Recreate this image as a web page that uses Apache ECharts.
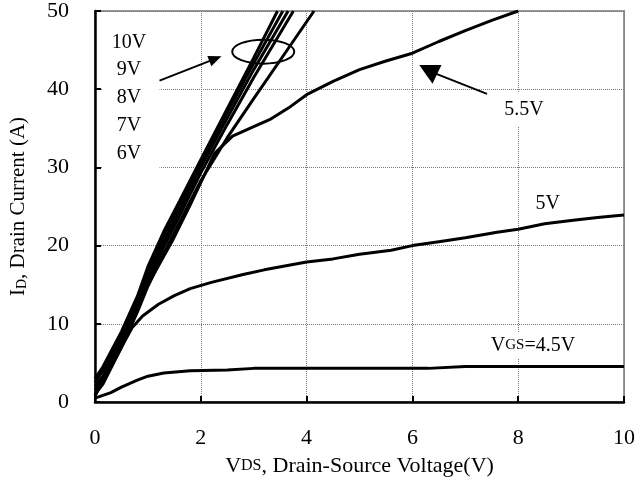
<!DOCTYPE html>
<html><head><meta charset="utf-8">
<script src="https://cdn.jsdelivr.net/npm/echarts@6/dist/echarts.min.js"></script>
<style>html,body{margin:0;padding:0;background:#fff}#c{width:638px;height:482px}</style>
</head><body><div id="c"></div>
<script>
// Axis ticks
const xMin = 0, xMax = 10, xStep = 2;
const yMin = 0, yMax = 50, yStep = 10;
// Curve labels
const bundleLabels = ['10V', '9V', '8V', '7V', '6V'];
// Drain current (A) vs VDS (V)
const id10 = [[0,3],[0.15,4.5],[0.5,9],[0.8,13.5],[1,17.3],[1.3,21.8],[1.6,25.7],[2,31],[2.5,37.5],[3,44],[3.45,50]];
const id9  = [[0,2.5],[0.15,4],[0.5,8.5],[0.8,13],[1,16.7],[1.3,21.2],[1.6,25.2],[2,30.5],[2.5,37],[3,43.3],[3.55,50]];
const id8  = [[0,2],[0.15,3.3],[0.5,8],[0.8,12.5],[1,16.1],[1.3,20.5],[1.6,24.5],[2,30],[2.5,36.3],[3,42.5],[3.65,50]];
const id7  = [[0,1.5],[0.15,2.8],[0.5,7.5],[0.8,12],[1,15.5],[1.3,19.8],[1.6,23.8],[2,29.3],[2.5,35.5],[3,41.5],[3.75,50]];
const id6  = [[0,1],[0.15,2.3],[0.5,7],[0.8,11.5],[1,14.8],[1.3,19],[1.6,23],[2,28.3],[2.5,33.8],[3,38.8],[3.5,43.7],[4.14,50]];
const id55 = [[0,0.8],[0.3,5],[0.6,9.5],[1,15],[1.47,20.7],[1.8,25.2],[2.1,29.5],[2.26,31.8],[2.6,34],[3,35.2],[3.3,36.1],[3.7,37.8],[4,39.3],[4.5,41],[5,42.5],[5.5,43.6],[6,44.6],[6.5,46.1],[7,47.5],[7.5,48.8],[8,50]];
const id5  = [[0,0.8],[0.3,4.5],[0.5,7],[0.7,9.5],[0.9,11],[1.2,12.5],[1.5,13.6],[1.8,14.5],[2.2,15.3],[2.8,16.3],[3.2,16.9],[4,17.9],[4.5,18.3],[5,18.9],[5.6,19.4],[6,20.0],[6.5,20.5],[7,21.0],[7.6,21.7],[8,22.1],[8.5,22.8],[9,23.2],[9.5,23.6],[10,23.9]];
const id45 = [[0,0.5],[0.3,1.2],[0.5,1.9],[0.8,2.8],[1,3.3],[1.3,3.7],[1.8,4.0],[2.5,4.1],[3,4.3],[4,4.3],[5,4.3],[6,4.3],[6.3,4.3],[7,4.55],[8,4.55],[9,4.55],[10,4.55]];
const curves = [id10, id9, id8, id7, id6, id55, id5, id45];

const FONT = 'Liberation Serif';
const chart = echarts.init(document.getElementById('c'), null, {renderer: 'canvas'});
const axisCommon = {
  type: 'value',
  axisLine: {show: true, onZero: false, lineStyle: {color: '#000', width: 2.5}},
  axisTick: {show: true, inside: true, length: 6, lineStyle: {color: '#000', width: 2}},
  splitLine: {show: true, lineStyle: {type: 'dotted', color: '#777', width: 1}},
  nameLocation: 'middle'
};
chart.setOption({
  animation: false,
  backgroundColor: '#fff',
  grid: {left: 95, right: 13, top: 11, bottom: 80, show: true, borderColor: '#999', borderWidth: 2},
  xAxis: Object.assign({}, axisCommon, {
    min: xMin, max: xMax, interval: xStep,
    axisLabel: {fontFamily: FONT, fontSize: 22, color: '#000', margin: 25},
    name: '{a|V}{b|DS}{a|, Drain-Source Voltage(V)}',
    nameGap: 51,
    nameTextStyle: {rich: {
      a: {fontFamily: FONT, fontSize: 22, color: '#000', lineHeight: 24, verticalAlign: 'bottom'},
      b: {fontFamily: FONT, fontSize: 16, color: '#000', lineHeight: 18, verticalAlign: 'bottom', padding: [0, 0, 3, 0]}
    }}
  }),
  yAxis: Object.assign({}, axisCommon, {
    min: yMin, max: yMax, interval: yStep,
    axisLabel: {fontFamily: FONT, fontSize: 22, color: '#000', margin: 26},
    name: '{a|I}{b|D}{a|, Drain Current (A)}',
    nameGap: 66,
    nameRotate: 90,
    nameTextStyle: {rich: {
      a: {fontFamily: FONT, fontSize: 21, color: '#000', lineHeight: 24, verticalAlign: 'bottom'},
      b: {fontFamily: FONT, fontSize: 14, color: '#000', lineHeight: 14, verticalAlign: 'bottom'}
    }}
  }),
  series: curves.map(d => ({
    type: 'line', data: d, symbol: 'none', smooth: false, clip: true,
    lineStyle: {color: '#000', width: 3}, z: 3
  }))
});

function P(x, y) { return chart.convertToPixel({gridIndex: 0}, [x, y]); }
const gr = [];
// white box behind bundle labels
const b0 = P(0.13, 47.8), b1 = P(1.22, 29.7);
gr.push({type: 'rect', shape: {x: b0[0], y: b0[1], width: b1[0] - b0[0], height: b1[1] - b0[1]}, style: {fill: '#fff'}, z: 50});
const labelY = [45.9, 42.5, 38.9, 35.3, 31.7];
bundleLabels.forEach((t, i) => {
  const p = P(0.64, labelY[i]);
  gr.push({type: 'text', x: p[0], y: p[1], style: {text: t, font: '20px "Liberation Serif"', fill: '#000', align: 'center', verticalAlign: 'middle'}, z: 60});
});
// arrow to ellipse
const a0 = P(1.22, 41.1), a1 = P(2.39, 44.2);
function arrow(s, e, len, half, w) {
  const dx = e[0] - s[0], dy = e[1] - s[1], L = Math.hypot(dx, dy), ux = dx / L, uy = dy / L;
  const bx = e[0] - ux * len, by = e[1] - uy * len;
  gr.push({type: 'line', shape: {x1: s[0], y1: s[1], x2: bx + ux * 2, y2: by + uy * 2}, style: {stroke: '#000', lineWidth: w}, z: 60});
  gr.push({type: 'polygon', shape: {points: [[e[0], e[1]], [bx - uy * half, by + ux * half], [bx + uy * half, by - ux * half]]}, style: {fill: '#000'}, z: 60});
}
arrow(a0, a1, 13, 5.5, 2);
const ec = P(3.18, 44.8);
gr.push({type: 'ellipse', shape: {cx: ec[0], cy: ec[1], rx: 31, ry: 12}, style: {fill: 'none', stroke: '#000', lineWidth: 2}, z: 60});
// 5.5V arrow
const c0 = P(7.41, 39.4), c1 = P(6.44, 42.0);
gr.push({type: 'line', shape: {x1: c0[0], y1: c0[1], x2: c1[0], y2: c1[1]}, style: {stroke: '#000', lineWidth: 2}, z: 60});
const t1 = P(6.13, 43.1), t2 = P(6.55, 43.1), t3 = P(6.38, 40.7);
gr.push({type: 'polygon', shape: {points: [t1, t2, t3]}, style: {fill: '#000'}, z: 60});
// curve labels with white backgrounds
const l55 = P(8.11, 37.4), l5 = P(8.56, 25.3), l45 = P(8.28, 7.3);
gr.push({type: 'text', x: l55[0], y: l55[1], style: {text: '5.5V', font: '20px "Liberation Serif"', fill: '#000', align: 'center', verticalAlign: 'middle', backgroundColor: '#fff', padding: [12, 3, 2, 3]}, z: 60});
gr.push({type: 'text', x: l5[0], y: l5[1], style: {text: '5V', font: '20px "Liberation Serif"', fill: '#000', align: 'center', verticalAlign: 'middle', backgroundColor: '#fff', padding: [2, 2, 2, 2]}, z: 60});
gr.push({type: 'text', x: l45[0], y: l45[1], style: {
  text: '{a|V}{b|GS}{a|=4.5V}', align: 'center', verticalAlign: 'middle', backgroundColor: '#fff', padding: [2, 3, 2, 3],
  rich: {a: {font: '20px "Liberation Serif"', fill: '#000', lineHeight: 22, verticalAlign: 'bottom'}, b: {font: '15px "Liberation Serif"', fill: '#000', lineHeight: 18, verticalAlign: 'bottom', padding: [0, 0, 3, 0]}}
}, z: 60});
chart.setOption({graphic: gr});
</script></body></html>
